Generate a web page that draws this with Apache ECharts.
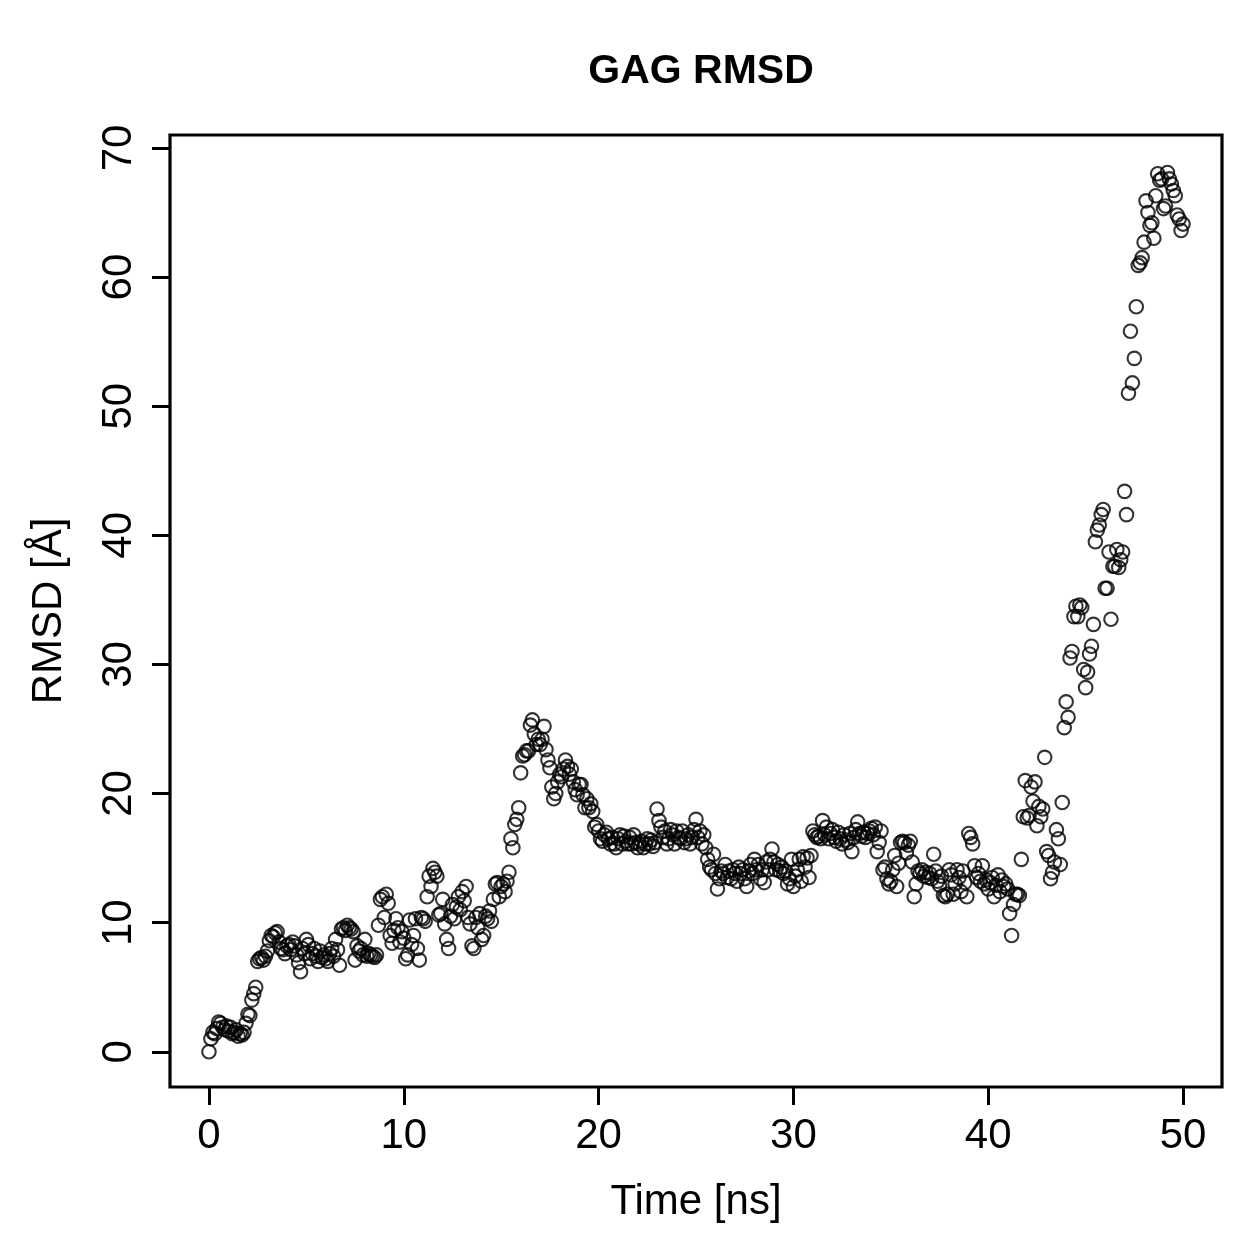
<!DOCTYPE html>
<html>
<head>
<meta charset="utf-8">
<title>GAG RMSD</title>
<script src="https://cdn.jsdelivr.net/npm/echarts@6/dist/echarts.min.js"></script>
<style>
  html, body { margin: 0; padding: 0; background: #fff; }
  #gag-rmsd-chart { width: 1259px; height: 1259px; }
</style>
</head>
<body>
<div id="gag-rmsd-chart"></div>
<script>
// RMSD, one value every 0.1 ns (rows = 1 ns)
const rmsd = [
  0.0, 1.0, 1.5, 1.4, 1.8, 2.3, 2.2, 1.9, 1.7, 2.0,
  1.6, 1.9, 1.4, 1.5, 1.7, 1.2, 1.4, 1.3, 1.5, 2.2,
  2.9, 2.8, 4.0, 4.5, 5.0, 7.0, 7.2, 7.3, 7.1, 7.4,
  7.8, 8.6, 9.0, 8.9, 9.2, 9.3, 8.5, 8.0, 7.9, 7.6,
  8.2, 8.3, 7.9, 8.5, 8.2, 7.5, 6.9, 6.2, 8.0, 7.6,
  8.7, 8.3, 7.2, 7.6, 8.0, 7.4, 7.0, 7.8, 7.3, 7.5,
  7.2, 7.0, 7.6, 8.0, 7.4, 8.7, 7.9, 6.7, 9.5, 9.6,
  9.4, 9.8, 9.6, 9.5, 9.3, 7.1, 8.2, 7.8, 8.0, 7.5,
  8.7, 7.4, 7.6, 7.5, 7.4, 7.3, 7.5, 9.8, 11.8, 12.0,
  10.4, 12.2, 11.5, 9.0, 8.4, 9.4, 10.3, 9.6, 8.5, 9.3,
  8.8, 7.2, 7.5, 10.2, 8.3, 9.0, 10.3, 8.0, 7.1, 10.4,
  10.3, 10.1, 12.0, 13.6, 12.8, 14.2, 13.9, 13.6, 10.6, 10.7,
  11.8, 9.9, 8.7, 8.0, 10.5, 11.4, 10.3, 11.2, 12.0, 11.0,
  12.4, 11.7, 12.8, 10.4, 9.9, 8.2, 8.0, 10.4, 9.6, 10.7,
  8.7, 9.0, 10.5, 10.3, 10.9, 10.1, 11.8, 13.0, 13.1, 12.0,
  12.8, 13.0, 12.4, 13.2, 13.9, 16.5, 15.8, 17.6, 18.0, 18.9,
  21.6, 22.9, 23.0, 23.3, 23.3, 25.3, 25.7, 24.6, 23.8, 24.2,
  23.8, 24.2, 25.2, 23.4, 22.6, 22.0, 20.5, 19.6, 20.0, 20.9,
  21.5, 21.3, 21.9, 22.6, 22.1, 21.5, 21.9, 20.9, 20.3, 19.9,
  20.7, 20.7, 19.9, 18.9, 19.6, 18.9, 19.2, 18.6, 17.4, 17.6,
  17.1, 16.5, 16.3, 16.8, 17.0, 16.5, 16.1, 16.6, 16.1, 15.8,
  16.5, 16.8, 16.1, 16.7, 16.3, 16.1, 16.6, 16.1, 16.8, 16.2,
  15.8, 16.1, 16.3, 15.8, 16.1, 16.5, 16.1, 16.4, 15.9, 16.2,
  18.8, 17.9, 17.4, 16.6, 17.1, 16.1, 16.5, 17.2, 16.8, 16.1,
  17.1, 16.6, 16.5, 17.1, 16.2, 16.5, 16.8, 16.1, 16.6, 17.2,
  18.0, 16.6, 17.1, 16.1, 16.8, 15.8, 14.9, 14.3, 14.1, 15.3,
  13.8, 12.6, 13.4, 14.0, 13.8, 14.5, 13.5, 14.0, 13.4, 14.1,
  13.8, 13.2, 14.3, 13.8, 14.1, 13.4, 12.8, 14.0, 14.5, 13.8,
  14.9, 14.1, 14.5, 13.4, 14.1, 13.1, 14.7, 14.1, 14.9, 15.7,
  14.7, 14.1, 14.5, 14.0, 14.3, 13.8, 14.0, 13.0, 13.4, 14.9,
  12.8, 13.6, 14.1, 14.9, 13.2, 15.1, 14.3, 15.0, 13.5, 15.2,
  17.1, 16.8, 16.6, 16.7, 16.5, 17.9, 16.8, 17.4, 16.5, 16.9,
  17.2, 16.6, 16.3, 17.0, 16.5, 16.1, 16.8, 16.4, 16.2, 16.9,
  15.5, 16.6, 17.2, 17.8, 16.9, 16.7, 17.0, 16.6, 16.9, 17.1,
  17.3, 16.8, 17.4, 15.5, 16.2, 17.1, 14.1, 14.3, 13.4, 13.0,
  13.2, 14.1, 15.2, 12.8, 14.6, 16.2, 16.3, 16.2, 15.4, 16.0,
  16.3, 14.7, 12.0, 13.0, 14.0, 13.8, 14.1, 13.6, 13.9, 13.5,
  13.8, 13.4, 15.3, 14.0, 13.2, 12.9, 13.6, 12.1, 12.0, 12.2,
  14.1, 13.7, 12.2, 13.0, 14.1, 13.5, 12.4, 14.0, 13.1, 12.0,
  16.9, 16.6, 16.1, 14.4, 13.5, 13.8, 13.2, 14.4, 13.0, 13.3,
  12.6, 13.1, 13.5, 12.0, 12.9, 13.7, 12.4, 13.3, 12.8, 13.0,
  12.6, 10.7, 9.0, 11.4, 12.2, 12.2, 12.1, 14.9, 18.2, 21.0,
  18.1, 18.3, 20.5, 19.4, 20.9, 17.5, 19.0, 18.2, 18.8, 22.8,
  15.5, 15.2, 13.4, 13.9, 14.7, 17.2, 16.5, 14.5, 19.3, 25.1,
  27.1, 25.9, 30.5, 31.0, 33.7, 34.5, 33.7, 34.6, 34.4, 29.6,
  28.2, 29.4, 30.8, 31.4, 33.1, 39.5, 40.4, 40.8, 41.6, 42.0,
  35.9, 35.9, 38.7, 33.5, 37.6, 37.6, 38.9, 37.5, 38.1, 38.7,
  43.4, 41.6, 51.0, 55.8, 51.8, 53.7, 57.7, 60.9, 61.1, 61.5,
  62.7, 65.9, 65.0, 64.0, 64.2, 63.0, 66.3, 68.0, 67.5, 67.6,
  65.3, 65.5, 68.1, 67.6, 67.2, 66.7, 66.3, 64.8, 64.5, 63.6,
  64.1
];
// frames are saved every 0.1 ns
const time = rmsd.map((v, i) => +(i * 0.1).toFixed(1));

const xTicks = [0, 10, 20, 30, 40, 50];
const yTicks = [0, 10, 20, 30, 40, 50, 60, 70];

const font = "Liberation Sans";

let option = {
  animation: false,
  backgroundColor: "#fff",
  title: {
    text: "GAG RMSD",
    left: 696,
    top: 46,
    textAlign: "center",
    textStyle: { fontFamily: font, fontWeight: "bold", fontSize: 41, color: "#000" }
  },
  grid: {
    left: 170,
    right: 37,
    top: 135,
    bottom: 172,
    show: true,
    borderColor: "#000",
    borderWidth: 3.2,
    backgroundColor: "transparent"
  },
  xAxis: {
    type: "value",
    min: -2,
    max: 52,
    name: "Time [ns]",
    nameLocation: "middle",
    nameGap: 94,
    nameTextStyle: { fontFamily: font, fontSize: 42, color: "#000" },
    axisLine: { show: false, onZero: false },
    splitLine: { show: false },
    axisTick: { show: true, inside: false, length: 18, customValues: xTicks, lineStyle: { color: "#000", width: 3 } },
    axisLabel: { customValues: xTicks, margin: 28, fontFamily: font, fontSize: 42, color: "#000" }
  },
  yAxis: {
    type: "value",
    min: -2.73,
    max: 71.0,
    name: "RMSD [Å]",
    nameLocation: "middle",
    nameGap: 100,
    nameTextStyle: { fontFamily: font, fontSize: 42, color: "#000" },
    axisLine: { show: false, onZero: false },
    splitLine: { show: false },
    axisTick: { show: true, inside: false, length: 18, customValues: yTicks, lineStyle: { color: "#000", width: 3 } },
    axisLabel: { customValues: yTicks, rotate: 90, margin: 30, fontFamily: font, fontSize: 42, color: "#000" }
  },
  series: [
    {
      type: "scatter",
      symbol: "circle",
      symbolSize: 13.5,
      itemStyle: { color: "rgba(0,0,0,0)", borderColor: "#000", borderWidth: 2.1 },
      emphasis: { disabled: true },
      data: time.map((t, i) => [t, rmsd[i]])
    }
  ]
};

let chart = echarts.init(document.getElementById("gag-rmsd-chart"));
chart.setOption(option);
</script>
</body>
</html>
